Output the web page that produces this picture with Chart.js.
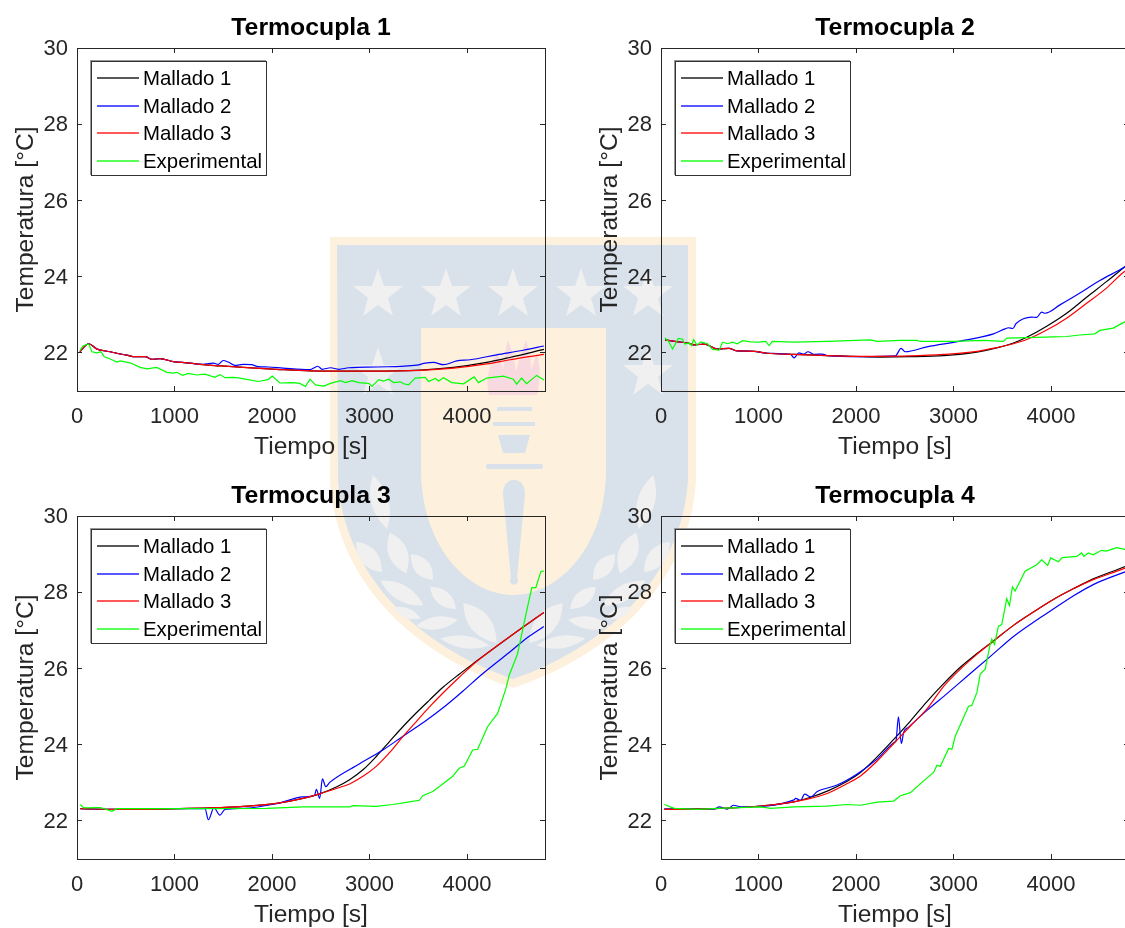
<!DOCTYPE html>
<html>
<head>
<meta charset="utf-8">
<title>Termocuplas</title>
<script src="https://cdn.jsdelivr.net/npm/chart.js@4/dist/chart.umd.min.js"></script>
<style>
  html, body { margin: 0; padding: 0; background: #fff; overflow: hidden; width: 1125px; height: 928px; }
  #escudo { position: absolute; left: 0; top: 0; }
  .panel { position: absolute; width: 560px; height: 462px; }
  .panel canvas { position: absolute; left: 0; top: 0; }
  .legend-box {
    position: absolute; left: 91px; top: 61px; width: 174px; height: 113px;
    background: #fff; border: 1px solid #333; box-shadow: -1px -1px 0 #999;
    font: 20.4px "Liberation Sans", Arial, sans-serif; color: #000;
  }
  .legend-item { position: absolute; left: 0; height: 28px; line-height: 28px; white-space: nowrap; }
  .legend-line { position: absolute; left: 5px; top: 13px; width: 42px; height: 2px; opacity: 0.65; }
  .legend-text { position: absolute; left: 51px; top: 0; }
</style>
</head>
<body>

<svg id="escudo" width="1125" height="928" xmlns="http://www.w3.org/2000/svg">
  <defs><path id="hoja" d="M-1,0 Q0,-1.6 1,0 Q0,1.6 -1,0 Z"/></defs>
  <path fill="#fdf0dc" d="M330,237 H696 V480 C691,570 626,650 513,688 C400,650 335,570 330,480 Z"/>
  <path fill="#d9e1ea" d="M337,245 H688 V480 C683,565 620,642 513,679 C406,642 343,565 338,480 Z"/>
  <path fill="#fdf0dc" d="M421,328 H606 V470 C606,545 560,595 513,595 C467,595 421,545 421,470 Z"/>
  <g fill="#f0f0f0">
    <path id="estrella" d="M378,268 L384,286 L403,286 L388,298 L393,316 L378,305 L363,316 L368,298 L353,286 L372,286 Z"/>
    <use href="#estrella" x="68"/>
    <use href="#estrella" x="135"/>
    <use href="#estrella" x="203"/>
    <use href="#estrella" x="270"/>
    <use href="#estrella" y="79"/>
    <use href="#estrella" x="270" y="79"/>
    <g id="hojas">
      <use href="#hoja" transform="translate(380,502) rotate(75) scale(28,11)"/>
      <use href="#hoja" transform="translate(369,557) rotate(50) scale(20,11)"/>
      <use href="#hoja" transform="translate(398,553) rotate(68) scale(22,12)"/>
      <use href="#hoja" transform="translate(422,567) rotate(50) scale(17,10)"/>
      <use href="#hoja" transform="translate(402,593) rotate(30) scale(25,10)"/>
      <use href="#hoja" transform="translate(443,598) rotate(40) scale(17,9)"/>
      <use href="#hoja" transform="translate(407,613) rotate(22) scale(15,6)"/>
      <use href="#hoja" transform="translate(437,623) rotate(-8) scale(21,8)"/>
      <use href="#hoja" transform="translate(480,623) rotate(50) scale(26,13)"/>
      <use href="#hoja" transform="translate(465,642) rotate(8) scale(25,8)"/>
    </g>
    <use href="#hojas" transform="translate(1026,0) scale(-1,1)"/>
  </g>
  <path fill="#f8d9e0" d="M489,395 C484,375 492,362 497,352 C500,360 502,365 503,370 C504,360 505,350 508,340 C512,350 515,362 516,372 C518,362 522,350 526,340 C530,352 531,362 531,370 C533,364 535,358 537,354 C541,368 540,382 537,395 Z"/>
  <g fill="#d9e1ea">
    <rect x="497" y="407" width="35" height="4"/>
    <rect x="493" y="422" width="42" height="4"/>
    <path d="M498,435 H530 L525,453 H503 Z"/>
    <rect x="486" y="464" width="57" height="5" rx="2"/>
    <path d="M514,480 C522,480 525,487 525,494 L517,578 A4,4 0 1 1 511,578 L503,494 C503,487 506,480 514,480 Z"/>
  </g>
</svg>

<div class="panel" style="left:0;top:0"><canvas id="t1" width="560" height="462"></canvas><div class="legend-box" id="leg1"></div></div>
<div class="panel" style="left:584px;top:0"><canvas id="t2" width="560" height="462"></canvas><div class="legend-box" id="leg2"></div></div>
<div class="panel" style="left:0;top:468px"><canvas id="t3" width="560" height="462"></canvas><div class="legend-box" id="leg3"></div></div>
<div class="panel" style="left:584px;top:468px"><canvas id="t4" width="560" height="462"></canvas><div class="legend-box" id="leg4"></div></div>

<script>
const xTicks = [0, 1000, 2000, 3000, 4000];
const yTicks = [22, 24, 26, 28, 30];
const serieNames = ['Mallado 1', 'Mallado 2', 'Mallado 3', 'Experimental'];
const serieColors = ['#000000', '#0000ff', '#ff0000', '#00ff00'];

// Termocupla 1 -- [tiempo, temperatura]
const t1m1 = [[30,22.03],[120,22.24],[205,22.1],[341,22.03],[443,21.97],[511,21.94],[597,21.9],[700,21.9],[767,21.83],[852,21.85],[990,21.77],[1125,21.74],[1296,21.69],[1466,21.66],[1705,21.62],[2046,21.57],[2395,21.53],[3009,21.52],[3520,21.55],[3861,21.62],[4202,21.75],[4441,21.88],[4789,22.09]];
const t1m2 = [[30,22.03],[120,22.24],[205,22.1],[341,22.03],[443,21.97],[511,21.94],[597,21.9],[700,21.9],[767,21.83],[852,21.85],[990,21.77],[1125,21.74],[1296,21.7],[1347,21.72],[1398,21.73],[1449,21.7],[1500,21.8],[1551,21.76],[1620,21.67],[1705,21.7],[1790,21.69],[1858,21.64],[1960,21.63],[2114,21.6],[2387,21.56],[2470,21.65],[2514,21.57],[2600,21.61],[2685,21.57],[2787,21.61],[3077,21.63],[3486,21.68],[3571,21.73],[3657,21.75],[3759,21.69],[3895,21.79],[4032,21.82],[4305,21.95],[4577,22.07],[4789,22.18]];
const t1m3 = [[30,22.03],[120,22.24],[205,22.1],[341,22.03],[443,21.97],[511,21.94],[597,21.9],[700,21.9],[767,21.83],[852,21.85],[990,21.77],[1125,21.74],[1296,21.69],[1466,21.66],[1705,21.62],[2046,21.57],[2395,21.53],[3009,21.52],[3520,21.54],[3861,21.6],[4202,21.71],[4441,21.82],[4789,21.96]];
const t1exp = [[30,22.06],[61,22.18],[102,22.22],[120,22.23],[153,22.03],[205,22],[245,22.03],[280,21.9],[341,21.84],[409,21.76],[443,21.79],[545,21.74],[648,21.62],[716,21.58],[818,21.62],[921,21.49],[989,21.47],[1023,21.49],[1084,21.41],[1142,21.46],[1228,21.42],[1313,21.44],[1415,21.36],[1466,21.43],[1517,21.35],[1603,21.36],[1671,21.34],[1756,21.3],[1858,21.25],[1960,21.3],[2002,21.39],[2080,21.21],[2216,21.22],[2285,21.2],[2343,21.12],[2390,21.31],[2446,21.16],[2531,21.13],[2600,21.2],[2702,21.27],[2753,21.22],[2821,21.27],[2889,21.22],[2992,21.2],[3026,21.12],[3094,21.3],[3145,21.26],[3196,21.31],[3248,21.22],[3316,21.24],[3350,21.19],[3401,21.16],[3469,21.34],[3571,21.36],[3606,21.25],[3674,21.33],[3708,21.26],[3759,21.35],[3844,21.22],[3964,21.19],[4073,21.37],[4117,21.22],[4202,21.34],[4373,21.39],[4475,21.31],[4510,21.18],[4560,21.34],[4611,21.19],[4714,21.41],[4789,21.29]];

// Termocupla 2
const t2m1 = [[41,22.34],[136,22.3],[273,22.26],[341,22.21],[443,22.23],[580,22.1],[700,22.12],[767,22.06],[955,22.04],[1091,21.99],[1364,21.96],[1705,21.93],[2046,21.9],[2251,21.89],[2558,21.9],[2899,21.93],[3240,22.02],[3444,22.13],[3615,22.26],[3751,22.41],[3956,22.7],[4160,23.04],[4365,23.46],[4569,23.87],[4747,24.24],[4800,24.35]];
const t2m2 = [[41,22.34],[136,22.3],[273,22.26],[341,22.21],[443,22.23],[580,22.1],[700,22.12],[767,22.06],[955,22.04],[1091,21.99],[1330,21.96],[1364,21.87],[1415,22],[1466,21.97],[1507,22.03],[1569,21.96],[1654,21.97],[1705,21.93],[2046,21.9],[2404,21.92],[2462,22.12],[2506,22.03],[2728,22.16],[3069,22.31],[3410,22.5],[3529,22.63],[3563,22.66],[3608,22.64],[3642,22.77],[3802,22.94],[3853,22.93],[3904,23.07],[3939,23.04],[4092,23.26],[4297,23.57],[4501,23.9],[4747,24.24],[4800,24.33]];
const t2m3 = [[41,22.34],[136,22.3],[273,22.26],[341,22.21],[443,22.23],[580,22.1],[700,22.12],[767,22.06],[955,22.04],[1091,21.99],[1364,21.96],[1705,21.93],[2046,21.91],[2217,21.91],[2558,21.92],[2899,21.96],[3240,22.04],[3444,22.14],[3615,22.24],[3751,22.35],[3956,22.6],[4160,22.91],[4365,23.3],[4569,23.7],[4747,24.12],[4800,24.2]];
const t2exp = [[41,22.39],[75,22.31],[119,22.1],[177,22.38],[222,22.36],[245,22.23],[290,22.26],[314,22.19],[334,22.35],[368,22.21],[409,22.29],[477,22.24],[529,22.09],[597,22.07],[631,22.28],[682,22.24],[733,22.28],[784,22.24],[835,22.32],[921,22.29],[1006,22.28],[1074,22.3],[1108,22.19],[1142,22.3],[1364,22.28],[1705,22.3],[2148,22.34],[2217,22.3],[2455,22.33],[2626,22.33],[2660,22.3],[3001,22.3],[3308,22.33],[3512,22.3],[3546,22.39],[3751,22.4],[4024,22.42],[4160,22.43],[4297,22.47],[4450,22.5],[4501,22.59],[4638,22.65],[4747,22.8],[4800,22.87]];

// Termocupla 3
const t3m1 = [[34,22.32],[409,22.3],[1023,22.32],[1364,22.34],[1705,22.38],[2046,22.46],[2319,22.59],[2489,22.71],[2660,22.89],[2796,23.08],[2933,23.34],[3069,23.69],[3205,24.08],[3342,24.47],[3478,24.83],[3615,25.17],[3751,25.5],[3921,25.85],[4092,26.18],[4297,26.57],[4501,26.95],[4788,27.47]];
const t3m2 = [[34,22.32],[409,22.3],[1023,22.32],[1313,22.32],[1347,22.03],[1405,22.34],[1466,22.15],[1517,22.3],[1705,22.33],[2046,22.45],[2319,22.63],[2438,22.68],[2455,22.83],[2489,22.59],[2517,23.1],[2551,22.9],[2592,23.01],[2899,23.5],[3137,23.86],[3359,24.25],[3563,24.6],[3751,24.96],[3956,25.4],[4160,25.86],[4433,26.42],[4604,26.78],[4788,27.1]];
const t3m3 = [[34,22.32],[409,22.3],[1023,22.32],[1364,22.34],[1705,22.38],[2046,22.46],[2319,22.59],[2489,22.71],[2660,22.85],[2796,22.97],[2933,23.17],[3069,23.43],[3205,23.79],[3342,24.21],[3478,24.6],[3615,24.99],[3751,25.35],[3921,25.77],[4092,26.17],[4297,26.57],[4501,26.95],[4788,27.47]];
const t3exp = [[34,22.43],[68,22.34],[239,22.35],[358,22.25],[409,22.32],[1023,22.32],[1364,22.32],[1944,22.33],[2319,22.37],[2558,22.37],[2796,22.37],[2830,22.4],[3069,22.38],[3240,22.43],[3410,22.5],[3512,22.54],[3546,22.66],[3649,22.77],[3751,22.97],[3853,23.17],[3921,23.38],[3973,23.44],[4058,23.86],[4109,23.88],[4211,24.47],[4314,24.82],[4399,25.47],[4433,25.82],[4518,26.38],[4569,26.99],[4620,27.6],[4665,28.12],[4706,28.12],[4757,28.54],[4788,28.56]];

// Termocupla 4
const t4m1 = [[34,22.31],[546,22.32],[1023,22.39],[1364,22.5],[1535,22.62],[1705,22.78],[1910,23.04],[2046,23.27],[2217,23.68],[2387,24.14],[2558,24.62],[2728,25.13],[2899,25.6],[3069,26.03],[3240,26.39],[3410,26.72],[3615,27.13],[3819,27.48],[4024,27.81],[4228,28.09],[4433,28.35],[4747,28.66],[4800,28.72]];
const t4m2 = [[34,22.31],[546,22.31],[597,22.37],[682,22.31],[743,22.41],[818,22.37],[1364,22.55],[1381,22.59],[1432,22.54],[1473,22.7],[1535,22.63],[1603,22.77],[1807,22.94],[2012,23.23],[2217,23.62],[2397,24.07],[2411,24.11],[2435,24.73],[2465,24.03],[2489,24.33],[2540,24.46],[2728,24.9],[2933,25.34],[3137,25.79],[3376,26.31],[3615,26.84],[3853,27.27],[3990,27.5],[4228,27.9],[4433,28.2],[4747,28.52],[4800,28.57]];
const t4m3 = [[34,22.3],[546,22.32],[1023,22.39],[1364,22.5],[1535,22.59],[1705,22.72],[1910,22.98],[2046,23.18],[2217,23.57],[2387,24.03],[2558,24.49],[2728,24.94],[2899,25.53],[3069,25.98],[3240,26.37],[3410,26.72],[3615,27.13],[3819,27.48],[4024,27.81],[4228,28.09],[4433,28.33],[4747,28.62],[4800,28.68]];
const t4exp = [[34,22.43],[136,22.33],[375,22.3],[580,22.33],[1023,22.37],[1125,22.33],[1364,22.37],[1705,22.39],[1910,22.43],[2046,22.41],[2217,22.49],[2387,22.52],[2455,22.66],[2558,22.74],[2711,23.09],[2796,23.27],[2830,23.46],[2864,23.43],[2950,23.9],[2984,23.88],[3018,24.22],[3154,25.01],[3188,25.03],[3240,25.37],[3274,25.85],[3325,25.98],[3376,26.63],[3393,26.77],[3420,26.63],[3461,27.11],[3495,27.15],[3546,27.83],[3574,27.65],[3604,28.14],[3632,28.03],[3734,28.55],[3853,28.72],[3904,28.85],[3966,28.7],[3997,28.9],[4075,28.8],[4116,28.91],[4263,28.94],[4314,29.03],[4337,28.94],[4382,29.03],[4433,28.98],[4518,29.1],[4569,29.08],[4672,29.17],[4747,29.13],[4800,29.1]];

const inkColor = '#262626';
const fontFamily = '"Liberation Sans", Arial, sans-serif';

function fixedTicks(values) {
  return scale => { scale.ticks = values.map(v => ({ value: v })); };
}

function boxAxis(axis, position, values, min, max) {
  // opposite side of the MATLAB box: border and inward ticks only
  return {
    type: 'linear', axis: axis, position: position, min: min, max: max,
    afterBuildTicks: fixedTicks(values),
    afterFit: scale => { if (axis === 'x') scale.height = 0; else scale.width = 0; },
    ticks: { display: false },
    border: { color: inkColor, width: 1 },
    grid: { drawOnChartArea: false, tickLength: -5, tickColor: inkColor }
  };
}

function drawPanel(id, legendId, titulo, series) {
  const ctx = document.getElementById(id).getContext('2d');
  const chart = new Chart(ctx, {
    type: 'line',
    data: {
      datasets: series.map((s, i) => ({
        label: serieNames[i],
        data: s,
        borderColor: serieColors[i],
        borderWidth: 1.2,
        pointRadius: 0,
        // the simulated curves are smooth, the measured one is jagged
        cubicInterpolationMode: i < 3 ? 'monotone' : 'default',
        tension: 0,
        fill: false,
        order: series.length - i
      }))
    },
    options: {
      responsive: false,
      animation: false,
      layout: { padding: { left: 0, right: 15, top: 0, bottom: 0 } },
      plugins: {
        legend: { display: false },
        tooltip: { enabled: false },
        title: {
          display: true,
          text: titulo,
          fullSize: false,
          color: '#000',
          font: { family: fontFamily, size: 24.8, weight: 'bold', lineHeight: 1.2 },
          padding: { top: 13.6, bottom: 4.64 }
        }
      },
      scales: {
        x: {
          type: 'linear', position: 'bottom', min: 0, max: 4800,
          afterBuildTicks: fixedTicks(xTicks),
          afterFit: scale => { scale.height = 71; },
          title: {
            display: true, text: 'Tiempo [s]', color: inkColor,
            font: { family: fontFamily, size: 24.6, lineHeight: 1.2 },
            padding: 0
          },
          ticks: {
            color: inkColor, padding: 18, maxRotation: 0, autoSkip: false,
            font: { family: fontFamily, size: 22 },
            callback: v => String(v)
          },
          border: { color: inkColor, width: 1 },
          grid: { drawOnChartArea: false, tickLength: -5, tickColor: inkColor }
        },
        y: {
          type: 'linear', position: 'left', min: 21, max: 30,
          afterBuildTicks: fixedTicks(yTicks),
          afterFit: scale => { scale.width = 77; },
          title: {
            display: true, text: 'Temperatura [°C]', color: inkColor,
            font: { family: fontFamily, size: 24.6, lineHeight: 1.2 },
            padding: { top: 11, bottom: 0 }
          },
          ticks: {
            color: inkColor, padding: 14, autoSkip: false, labelOffset: 1,
            font: { family: fontFamily, size: 22 },
            callback: v => String(v)
          },
          border: { color: inkColor, width: 1 },
          grid: { drawOnChartArea: false, tickLength: -5, tickColor: inkColor }
        },
        xTop: boxAxis('x', 'top', xTicks, 0, 4800),
        yRight: boxAxis('y', 'right', yTicks, 21, 30)
      }
    }
  });

  const legendContainer = document.getElementById(legendId);
  chart.data.datasets.forEach((dataset, i) => {
    const legendItem = document.createElement('div');
    legendItem.className = 'legend-item';
    legendItem.style.top = (2 + i * 27.6) + 'px';
    legendItem.innerHTML = `
      <span class="legend-line" style="background:${dataset.borderColor}"></span>
      <span class="legend-text">${dataset.label}</span>
    `;
    legendContainer.appendChild(legendItem);
  });
}

drawPanel('t1', 'leg1', 'Termocupla 1', [t1m1, t1m2, t1m3, t1exp]);
drawPanel('t2', 'leg2', 'Termocupla 2', [t2m1, t2m2, t2m3, t2exp]);
drawPanel('t3', 'leg3', 'Termocupla 3', [t3m1, t3m2, t3m3, t3exp]);
drawPanel('t4', 'leg4', 'Termocupla 4', [t4m1, t4m2, t4m3, t4exp]);
</script>
</body>
</html>
